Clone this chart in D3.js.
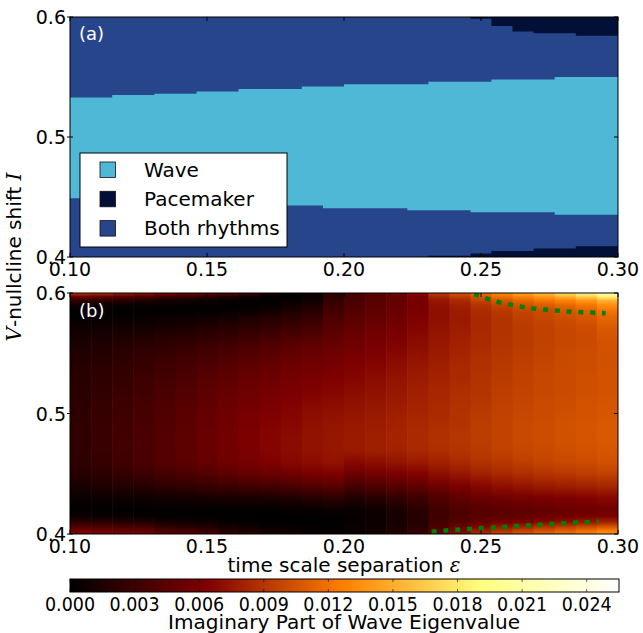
<!DOCTYPE html>
<html><head><meta charset="utf-8">
<script src="https://cdn.jsdelivr.net/npm/d3@7"></script>
<style>
body{margin:0;background:#fff}
svg{display:block}
text{font-family:"DejaVu Sans",sans-serif}
</style>
</head><body>
<svg id="chart" width="643" height="633"></svg>
<script>
// ---------------- DATA ----------------
// column edges in epsilon (time scale separation)
const epsEdges = [0.1000,0.1077,0.1154,0.1231,0.1308,0.1385,0.1462,0.1538,0.1615,0.1692,0.1769,0.1846,0.1923,
                  0.2000,0.2077,0.2154,0.2231,0.2308,0.2385,0.2462,0.2538,0.2615,0.2692,0.2769,0.2846,0.2923,0.3000];
// panel (a) region boundaries in I, per column
const lowPace  = [0.4,0.4,0.4,0.4,0.4,0.4,0.4,0.4,0.4,0.4,0.4,0.4,0.4,0.4,0.4,0.4,0.4,
                  0.401,0.401,0.403,0.405,0.405,0.407,0.407,0.409,0.409];
const lowWave  = [0.449,0.449,0.448,0.448,0.447,0.446,0.446,0.445,0.444,0.444,0.443,0.443,0.4406,0.4406,0.4406,0.4406,
                  0.439,0.439,0.439,0.4373,0.4373,0.4373,0.4373,0.4353,0.4353,0.4353];
const highWave = [0.533,0.533,0.535,0.535,0.536,0.536,0.538,0.538,0.540,0.540,0.540,0.542,0.542,0.544,0.544,0.544,0.544,
                  0.546,0.546,0.546,0.548,0.548,0.548,0.550,0.550,0.550];
const highPace = [0.6,0.6,0.6,0.6,0.6,0.6,0.6,0.6,0.6,0.6,0.6,0.6,0.6,0.6,0.6,0.6,0.6,0.6,0.6,
                  0.5985,0.5925,0.588,0.5864,0.5864,0.5844,0.5844];
const legendLabels = ["Wave","Pacemaker","Both rhythms"];

// panel (b): imaginary part of wave eigenvalue (x 1e-3), rows at these I values, one list per column
const heatRowsI = [0.600,0.597,0.594,0.590,0.585,0.580,0.570,0.560,0.550,0.540,0.530,0.520,0.510,0.500,
                   0.490,0.480,0.470,0.460,0.450,0.440,0.430,0.420,0.415,0.410,0.406,0.403,0.400];
const heatCols = [
 [9.5,5.5,2.5,0.8,0.15,0.2,0.8,1.3,1.6,1.8,2.0,2.1,2.2,2.3,2.4,2.4,2.4,2.3,1.9,1.3,0.5,0.1,0.6,2.2,4.0,5.5,6.5],
 [9.0,5.0,2.3,0.7,0.15,0.25,0.9,1.5,1.8,2.1,2.3,2.4,2.6,2.7,2.8,2.8,2.8,2.7,2.2,1.5,0.6,0.1,0.5,2.0,3.8,5.3,6.3],
 [8.0,4.5,2.0,0.5,0.1,0.3,1.0,1.7,2.1,2.4,2.6,2.8,3.0,3.1,3.2,3.3,3.3,3.2,2.6,1.8,0.7,0.1,0.4,1.8,3.6,5.0,6.0],
 [7.5,4.0,1.6,0.4,0.1,0.35,1.1,1.9,2.4,2.7,3.0,3.2,3.4,3.5,3.6,3.7,3.7,3.6,3.0,2.0,0.8,0.1,0.3,1.6,3.4,4.8,5.8],
 [6.8,3.3,1.2,0.3,0.1,0.5,1.3,2.1,2.7,3.1,3.4,3.6,3.8,4.0,4.1,4.2,4.2,4.1,3.4,2.3,0.9,0.15,0.2,1.0,2.4,3.6,4.5],
 [6.2,2.8,1.0,0.2,0.1,0.6,1.5,2.4,3.0,3.5,3.8,4.1,4.3,4.5,4.6,4.7,4.7,4.6,3.8,2.5,1.0,0.15,0.15,0.8,2.0,3.2,4.2],
 [5.5,2.2,0.7,0.15,0.15,0.8,1.8,2.7,3.4,3.9,4.3,4.6,4.8,5.0,5.1,5.2,5.2,5.1,4.2,2.8,1.1,0.15,0.1,0.6,1.6,2.8,3.8],
 [4.8,1.6,0.4,0.1,0.3,1.0,2.1,3.0,3.7,4.3,4.7,5.0,5.3,5.5,5.6,5.7,5.7,5.6,4.6,3.1,1.2,0.15,0.05,0.3,1.0,1.8,2.6],
 [3.5,0.8,0.15,0.1,0.5,1.3,2.4,3.4,4.1,4.7,5.1,5.4,5.7,6.0,6.1,6.2,6.2,6.0,5.0,3.3,1.3,0.15,0.05,0.2,0.7,1.3,2.0],
 [1.5,0.3,0.1,0.3,0.9,1.7,2.8,3.8,4.5,5.0,5.4,5.8,6.1,6.3,6.5,6.6,6.6,6.4,5.3,3.5,1.4,0.2,0.05,0.1,0.4,0.8,1.4],
 [0.5,0.1,0.3,0.8,1.4,2.1,3.2,4.2,4.9,5.4,5.8,6.1,6.4,6.6,6.8,6.9,6.9,6.7,5.6,3.8,1.6,0.3,0.05,0.05,0.2,0.5,1.0],
 [0.8,0.5,0.8,1.4,2.0,2.6,3.6,4.5,5.2,5.7,6.1,6.4,6.7,7.0,7.2,7.3,7.3,7.0,6.0,4.2,1.9,0.4,0.1,0.05,0.1,0.3,0.7],
 [2.0,2.2,2.5,3.0,3.3,3.7,4.4,5.0,5.5,5.9,6.3,6.6,6.9,7.2,7.4,7.5,7.5,7.3,6.3,4.5,2.2,0.6,0.2,0.1,0.15,0.3,0.6],
 [3.5,3.5,3.6,3.9,4.2,4.5,5.0,5.5,5.9,6.3,6.6,6.9,7.2,7.4,7.6,7.7,7.7,6.8,5.4,3.6,1.6,0.5,0.4,0.4,0.45,0.55,0.7],
 [4.5,4.3,4.3,4.5,4.8,5.0,5.5,5.9,6.3,6.6,6.9,7.2,7.4,7.6,7.8,7.9,7.9,7.1,5.8,4.0,2.0,0.8,0.6,0.6,0.7,0.8,1.0],
 [5.5,5.0,5.0,5.1,5.3,5.5,5.9,6.3,6.7,7.0,7.3,7.5,7.7,7.9,8.1,8.2,8.1,7.4,6.1,4.4,2.5,1.3,1.1,1.1,1.3,1.5,1.8],
 [7.0,6.2,6.0,6.0,6.1,6.3,6.6,6.9,7.2,7.5,7.7,7.9,8.1,8.2,8.4,8.5,8.4,7.7,6.5,4.9,3.1,2.0,1.8,1.9,2.1,2.4,2.8],
 [9.5,8.3,7.5,7.2,7.1,7.1,7.3,7.5,7.7,7.9,8.1,8.3,8.4,8.5,8.7,8.8,8.7,8.1,7.0,5.6,4.0,3.2,3.1,3.3,3.8,4.3,5.0],
 [10.8,9.5,8.5,8.0,7.8,7.7,7.8,8.0,8.2,8.4,8.5,8.7,8.8,8.9,9.0,9.1,9.0,8.5,7.5,6.2,4.8,3.9,3.8,4.3,5.3,6.2,7.0],
 [12.2,10.8,9.8,9.0,8.6,8.4,8.4,8.5,8.7,8.8,8.9,9.0,9.1,9.3,9.4,9.4,9.3,8.9,8.0,6.7,5.3,4.3,4.3,5.0,6.5,7.7,8.6],
 [13.5,12.0,10.8,9.8,9.2,9.0,8.9,9.0,9.1,9.2,9.3,9.4,9.5,9.6,9.7,9.7,9.6,9.2,8.4,7.1,5.6,4.5,4.6,5.6,7.4,8.8,9.8],
 [15.0,13.0,11.6,10.5,9.8,9.5,9.3,9.3,9.4,9.5,9.6,9.7,9.8,9.9,10.0,10.0,9.9,9.5,8.7,7.4,5.9,4.8,4.9,6.1,8.1,9.6,10.6],
 [16.2,14.0,12.3,11.0,10.2,9.9,9.6,9.6,9.7,9.8,9.9,9.9,10.0,10.1,10.2,10.2,10.1,9.8,9.0,7.7,6.1,5.0,5.2,6.6,8.8,10.3,11.3],
 [17.8,15.2,13.0,11.6,10.7,10.3,9.9,9.9,10.0,10.0,10.1,10.1,10.2,10.3,10.4,10.4,10.3,10.0,9.2,7.9,6.3,5.2,5.5,7.0,9.4,11.0,12.0],
 [20.0,16.8,14.0,12.3,11.2,10.7,10.2,10.1,10.2,10.2,10.3,10.3,10.4,10.5,10.6,10.6,10.5,10.2,9.4,8.1,6.5,5.4,5.8,7.5,10.0,11.7,12.8],
 [22.5,18.5,15.5,13.5,12.2,11.5,10.8,10.5,10.4,10.4,10.5,10.5,10.6,10.7,10.8,10.8,10.7,10.4,9.6,8.3,6.7,5.6,6.0,8.0,10.6,12.4,13.8]
];
const heatMax = 25.5; // x 1e-3, top of colour bar

// green dotted boundary curves in panel (b)
const upperCurveEps = [0.2475,0.2527,0.2567,0.2609,0.2652,0.2697,0.2740,0.2784,0.2827,0.2871,0.2915,0.2955];
const upperCurveI   = [0.5990,0.5950,0.5923,0.5903,0.5884,0.5870,0.5861,0.5853,0.5845,0.5840,0.5837,0.5832];
const lowerCurveEps = [0.2320,0.2446,0.2581,0.2713,0.2843,0.2930];
const lowerCurveI   = [0.4019,0.4041,0.4058,0.4077,0.4094,0.4102];

const xTicks = [0.10,0.15,0.20,0.25,0.30];
const yTicks = [0.4,0.5,0.6];
const cbTicks = [0.000,0.003,0.006,0.009,0.012,0.015,0.018,0.021,0.024];

// ---------------- STYLE ----------------
const regionColor = {"Wave":"#4fb8d7","Pacemaker":"#020f36","Both rhythms":"#27458b"};
const FS_TICK = 19, FS_LAB = 20;

// ---------------- DRAW ----------------
const svg = d3.select("#chart");
const defs = svg.append("defs");
const x = d3.scaleLinear().domain([0.1,0.3]).range([70,618]);
const yA = d3.scaleLinear().domain([0.4,0.6]).range([257,17]);
const yB = d3.scaleLinear().domain([0.4,0.6]).range([534,293]);

function afmhot(t){
  t = Math.max(0,Math.min(1,t));
  const c = v => Math.round(255*Math.max(0,Math.min(1,v)));
  return d3.rgb(c(2*t), c(2*t-0.5), c(2*t-1)).formatHex();
}
const color = d3.scaleSequential(afmhot).domain([0, heatMax]);

// ---- panel (a)
const idx = d3.range(epsEdges.length);
const val = (arr,i) => arr[Math.min(i, arr.length-1)];
const areaA = (lo,hi) => d3.area().curve(d3.curveStepAfter)
  .x(i => x(epsEdges[i])).y0(i => yA(val(lo,i))).y1(i => yA(val(hi,i)))(idx);
const gA = svg.append("g");
gA.append("rect").attr("x",x(0.1)).attr("y",yA(0.6)).attr("width",x(0.3)-x(0.1)).attr("height",yA(0.4)-yA(0.6))
  .attr("fill",regionColor["Both rhythms"]);
const bottomArr = lowPace.map(()=>0.4), topArr = highPace.map(()=>0.6);
gA.append("path").attr("d",areaA(lowWave,highWave)).attr("fill",regionColor["Wave"]);
gA.append("path").attr("d",areaA(bottomArr,lowPace)).attr("fill",regionColor["Pacemaker"]);
gA.append("path").attr("d",areaA(highPace,topArr)).attr("fill",regionColor["Pacemaker"]);

// ---- panel (b) heatmap
const gB = svg.append("g");
heatCols.forEach((col,i) => {
  const gid = "hg"+i;
  const lg = defs.append("linearGradient").attr("id",gid).attr("gradientUnits","userSpaceOnUse")
    .attr("x1",0).attr("x2",0).attr("y1",yB(0.6)).attr("y2",yB(0.4));
  col.forEach((v,k) => {
    lg.append("stop").attr("offset",(yB(heatRowsI[k])-yB(0.6))/(yB(0.4)-yB(0.6))).attr("stop-color",color(v));
  });
  const x0 = x(epsEdges[i]), x1 = x(epsEdges[i+1]);
  gB.append("rect").attr("x",x0).attr("y",yB(0.6))
    .attr("width",(x1-x0)+(i<heatCols.length-1?0.6:0)).attr("height",yB(0.4)-yB(0.6))
    .attr("fill","url(#"+gid+")");
});
defs.append("clipPath").attr("id","clipB").append("rect")
  .attr("x",x(0.1)).attr("y",yB(0.6)).attr("width",x(0.3)-x(0.1)).attr("height",yB(0.4)-yB(0.6));
const lineGen = d3.line().curve(d3.curveMonotoneX).x(d=>x(d[0])).y(d=>yB(d[1]));
[[upperCurveEps,upperCurveI],[lowerCurveEps,lowerCurveI]].forEach(([e,I]) => {
  svg.append("path").attr("clip-path","url(#clipB)").attr("d",lineGen(e.map((v,k)=>[v,I[k]])))
    .attr("fill","none").attr("stroke","#008000").attr("stroke-width",4.5).attr("stroke-dasharray","5,6.8");
});

// ---- axes frames & ticks
function frame(y){
  const g = svg.append("g");
  g.append("rect").attr("x",x(0.1)).attr("y",y(0.6)).attr("width",x(0.3)-x(0.1)).attr("height",y(0.4)-y(0.6))
    .attr("fill","none").attr("stroke","#000").attr("stroke-width",1);
  xTicks.forEach(t => {
    g.append("line").attr("x1",x(t)).attr("x2",x(t)).attr("y1",y(0.4)).attr("y2",y(0.4)-4).attr("stroke","#000");
    g.append("line").attr("x1",x(t)).attr("x2",x(t)).attr("y1",y(0.6)).attr("y2",y(0.6)+4).attr("stroke","#000");
    g.append("text").attr("x",x(t)).attr("y",y(0.4)+19).attr("text-anchor","middle")
      .attr("font-size",FS_TICK).text(d3.format(".2f")(t));
  });
  yTicks.forEach(t => {
    g.append("line").attr("x1",x(0.1)-3).attr("x2",x(0.1)+3).attr("y1",y(t)).attr("y2",y(t)).attr("stroke","#000");
    g.append("line").attr("x1",x(0.3)).attr("x2",x(0.3)-4).attr("y1",y(t)).attr("y2",y(t)).attr("stroke","#000");
    g.append("text").attr("x",x(0.1)-4).attr("y",y(t)+7).attr("text-anchor","end")
      .attr("font-size",FS_TICK).text(d3.format(".1f")(t));
  });
}
frame(yA);
frame(yB);

// panel labels
svg.append("text").attr("x",79).attr("y",40).attr("fill","#fff").attr("font-size",18).text("(a)");
svg.append("text").attr("x",79).attr("y",317).attr("fill","#fff").attr("font-size",18).text("(b)");

// legend
const lg = svg.append("g");
lg.append("rect").attr("x",80).attr("y",153).attr("width",207).attr("height",94)
  .attr("fill","#fff").attr("stroke","#000").attr("stroke-width",1);
legendLabels.forEach((lab,k) => {
  const yy = 162 + k*29.3;
  lg.append("rect").attr("x",100).attr("y",yy).attr("width",15.5).attr("height",15.5)
    .attr("fill",regionColor[lab]).attr("stroke","#111").attr("stroke-width",0.8);
  lg.append("text").attr("x",144).attr("y",yy+14.8).attr("font-size",FS_LAB).text(lab);
});

// axis labels
const yl = svg.append("text").attr("transform","translate(21,257) rotate(-90)").attr("text-anchor","middle").attr("font-size",FS_LAB);
yl.append("tspan").attr("font-family","DejaVu Serif").attr("font-style","italic").text("V");
yl.append("tspan").text("-nullcline shift ");
yl.append("tspan").attr("font-family","DejaVu Serif").attr("font-style","italic").text("I");

const xl = svg.append("text").attr("x",344).attr("y",572).attr("text-anchor","middle").attr("font-size",FS_LAB);
xl.append("tspan").text("time scale separation ");
xl.append("tspan").attr("font-family","DejaVu Serif").attr("font-style","italic").text("ε");

// colour bar
const cx = d3.scaleLinear().domain([0, heatMax/1000]).range([70,619]);
const cg = defs.append("linearGradient").attr("id","cbar").attr("x1",0).attr("x2",1).attr("y1",0).attr("y2",0);
[0,0.25,0.5,0.75,1].forEach(t => cg.append("stop").attr("offset",t).attr("stop-color",color(t*heatMax)));
const cb = svg.append("g");
cb.append("rect").attr("x",cx(0)).attr("y",579).attr("width",cx(heatMax/1000)-cx(0)).attr("height",13)
  .attr("fill","url(#cbar)").attr("stroke","#000").attr("stroke-width",1);
cbTicks.forEach(t => {
  cb.append("line").attr("x1",cx(t)).attr("x2",cx(t)).attr("y1",579).attr("y2",582).attr("stroke","#000").attr("stroke-opacity",0.6);
  cb.append("line").attr("x1",cx(t)).attr("x2",cx(t)).attr("y1",589).attr("y2",592).attr("stroke","#000").attr("stroke-opacity",0.6);
  cb.append("text").attr("x",cx(t)).attr("y",611).attr("text-anchor","middle").attr("font-size",FS_TICK)
    .attr("textLength",50).attr("lengthAdjust","spacingAndGlyphs").text(d3.format(".3f")(t));
});
svg.append("text").attr("x",344).attr("y",629).attr("text-anchor","middle").attr("font-size",FS_LAB)
  .attr("textLength",352).attr("lengthAdjust","spacingAndGlyphs")
  .text("Imaginary Part of Wave Eigenvalue");
</script>
</body></html>
